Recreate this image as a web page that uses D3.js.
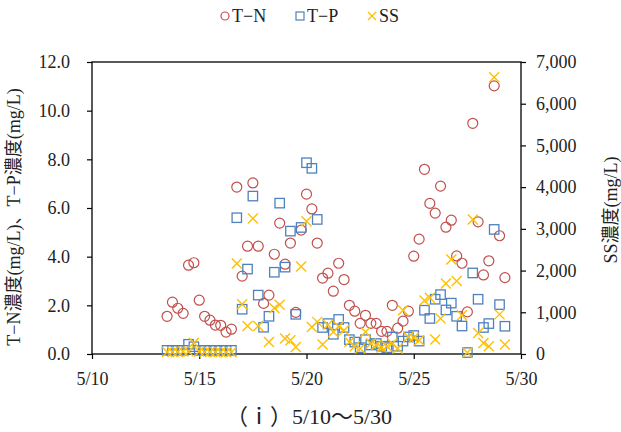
<!DOCTYPE html>
<html>
<head>
<meta charset="utf-8">
<script src="https://cdn.jsdelivr.net/npm/d3@7"></script>
<style>
  body { margin: 0; background: #fff; }
  text { font-family: "Liberation Serif", "Noto Sans CJK JP", serif; fill: #222; }
</style>
</head>
<body>
<svg id="chart"></svg>
<script>
// Sampling times (every 6 hours)
const sampleTimes = [
  "5/13 12:00", "5/13 18:00",
  "5/14 0:00", "5/14 6:00", "5/14 12:00", "5/14 18:00",
  "5/15 0:00", "5/15 6:00", "5/15 12:00", "5/15 18:00",
  "5/16 0:00", "5/16 6:00", "5/16 12:00", "5/16 18:00",
  "5/17 0:00", "5/17 6:00", "5/17 12:00", "5/17 18:00",
  "5/18 0:00", "5/18 6:00", "5/18 12:00", "5/18 18:00",
  "5/19 0:00", "5/19 6:00", "5/19 12:00", "5/19 18:00",
  "5/20 0:00", "5/20 6:00", "5/20 12:00", "5/20 18:00",
  "5/21 0:00", "5/21 6:00", "5/21 12:00", "5/21 18:00",
  "5/22 0:00", "5/22 6:00", "5/22 12:00", "5/22 18:00",
  "5/23 0:00", "5/23 6:00", "5/23 12:00", "5/23 18:00",
  "5/24 0:00", "5/24 6:00", "5/24 12:00", "5/24 18:00",
  "5/25 0:00", "5/25 6:00", "5/25 12:00", "5/25 18:00",
  "5/26 0:00", "5/26 6:00", "5/26 12:00", "5/26 18:00",
  "5/27 0:00", "5/27 6:00", "5/27 12:00", "5/27 18:00",
  "5/28 0:00", "5/28 6:00", "5/28 12:00", "5/28 18:00",
  "5/29 0:00", "5/29 6:00"
];

// T-N (mg/L)
const tnValues = [
  1.55, 2.13,
  1.88, 1.67, 3.65, 3.75,
  2.21, 1.55, 1.39, 1.19,
  1.18, 0.90, 1.02, 6.86,
  3.20, 4.43, 7.03, 4.43,
  2.08, 2.42, 4.10, 5.38,
  3.69, 4.56, 1.71, 5.09,
  6.57, 5.96, 4.56, 3.12,
  3.32, 2.58, 3.73, 3.06,
  2.00, 1.76, 1.26, 1.59,
  1.26, 1.26, 0.93, 0.93,
  2.00, 1.06, 1.35, 1.76,
  4.02, 4.72, 7.59, 6.19,
  5.79, 6.90, 5.21, 5.50,
  4.03, 3.73, 1.73, 9.48,
  5.43, 3.25, 3.83, 11.02,
  4.86, 3.14
];

// T-P (mg/L)
const tpValues = [
  0.15, 0.15,
  0.15, 0.15, 0.40, 0.30,
  0.15, 0.15, 0.15, 0.15,
  0.15, 0.15, 0.15, 5.60,
  1.84, 3.49, 6.49, 2.42,
  1.10, 1.55, 3.36, 6.20,
  3.57, 5.05, 1.63, 5.20,
  7.86, 7.63, 5.53, 1.09,
  1.25, 0.81, 1.42, 1.09,
  0.59, 0.49, 0.26, 0.59,
  0.37, 0.43, 0.32, 0.26,
  0.70, 0.32, 0.53, 0.70,
  0.76, 0.53, 1.80, 1.46,
  2.25, 2.44, 1.81, 2.09,
  1.55, 1.15, 0.06, 3.33,
  2.25, 1.09, 1.25, 5.12,
  2.03, 1.14
];

// SS (mg/L)
const ssValues = [
  50, 50,
  50, 60, 60, 270,
  60, 50, 50, 40,
  40, 40, 40, 2170,
  1190, 670, 3250, 670,
  null, 290, 1100, 1180,
  370, 330, 170, 2100,
  3180, 650, 770, 230,
  700, 530, 660, 570,
  290, 185, 130, 530,
  250, 210, 155, 185,
  250, 130, 1050, 410,
  390, 330, 1280, 1350,
  345, 850, 1690, 2265,
  1750, 930, 35, 3225,
  505, 265, 185, 6635,
  950, 230
];

const dateTicks = ["5/10 0:00", "5/15 0:00", "5/20 0:00", "5/25 0:00", "5/30 0:00"];
const leftTicks = [0, 2, 4, 6, 8, 10, 12];
const rightTicks = [0, 1000, 2000, 3000, 4000, 5000, 6000, 7000];

const colorTN = "#C0504D";
const colorTP = "#4F81BD";
const colorSS = "#FFC000";

const margin = { top: 62, right: 100, bottom: 78, left: 92 };
const width = 621 - margin.left - margin.right;
const height = 432 - margin.top - margin.bottom;

const parseTime = d3.timeParse("%m/%d %H:%M");
const times = sampleTimes.map(parseTime);

const root = d3.select("#chart")
    .attr("width", 621)
    .attr("height", 432);

const svg = root.append("g")
    .attr("transform", `translate(${margin.left},${margin.top})`);

// Scales
const xScale = d3.scaleTime()
    .domain([parseTime(dateTicks[0]), parseTime(dateTicks[dateTicks.length - 1])])
    .range([0, width]);

const yLeft = d3.scaleLinear().domain([0, 12]).range([height, 0]);
const yRight = d3.scaleLinear().domain([0, 7000]).range([height, 0]);

// Axes
const xAxis = svg.append("g")
    .attr("transform", `translate(0,${height})`)
    .call(d3.axisBottom(xScale)
        .tickValues(dateTicks.map(parseTime))
        .tickFormat(d3.timeFormat("%-m/%-d"))
        .tickSize(5)
        .tickPadding(13));

const leftAxis = svg.append("g")
    .call(d3.axisLeft(yLeft)
        .tickValues(leftTicks)
        .tickFormat(d3.format(".1f"))
        .tickSize(5)
        .tickPadding(17));

const rightAxis = svg.append("g")
    .attr("transform", `translate(${width},0)`)
    .call(d3.axisRight(yRight)
        .tickValues(rightTicks)
        .tickFormat(d3.format(","))
        .tickSize(5)
        .tickPadding(10));

[xAxis, leftAxis, rightAxis].forEach(function(ax) {
    ax.select(".domain").remove();
    ax.selectAll(".tick line").attr("stroke", "#000").attr("stroke-width", 1.2);
    ax.selectAll(".tick text")
        .style("font-size", "18px")
        .style("font-family", "'Liberation Serif', serif")
        .attr("fill", "#222");
});

// Plot frame
svg.append("rect")
    .attr("x", 0)
    .attr("y", 0)
    .attr("width", width)
    .attr("height", height)
    .attr("fill", "none")
    .attr("stroke", "#000")
    .attr("stroke-width", 1.3);

// Build point lists
const tnPoints = times.map((t, i) => ({ t: t, v: tnValues[i] })).filter(d => d.v != null);
const tpPoints = times.map((t, i) => ({ t: t, v: tpValues[i] })).filter(d => d.v != null);
const ssPoints = times.map((t, i) => ({ t: t, v: ssValues[i] })).filter(d => d.v != null);

// T-N circles
svg.selectAll(".tn")
    .data(tnPoints)
    .enter().append("circle")
    .attr("class", "tn")
    .attr("cx", d => xScale(d.t))
    .attr("cy", d => yLeft(d.v))
    .attr("r", 5)
    .attr("fill", "none")
    .attr("stroke", colorTN)
    .attr("stroke-width", 1.2);

// T-P squares
svg.selectAll(".tp")
    .data(tpPoints)
    .enter().append("rect")
    .attr("class", "tp")
    .attr("x", d => xScale(d.t) - 4.7)
    .attr("y", d => yLeft(d.v) - 4.7)
    .attr("width", 9.4)
    .attr("height", 9.4)
    .attr("fill", "none")
    .attr("stroke", colorTP)
    .attr("stroke-width", 1.3);

// SS crosses
const crossPath = "M-5,-5L5,5M-5,5L5,-5";
svg.selectAll(".ss")
    .data(ssPoints)
    .enter().append("path")
    .attr("class", "ss")
    .attr("transform", d => `translate(${xScale(d.t)},${yRight(d.v)})`)
    .attr("d", crossPath)
    .attr("fill", "none")
    .attr("stroke", colorSS)
    .attr("stroke-width", 1.4);

// Legend
const legend = root.append("g");
legend.append("circle")
    .attr("cx", 225).attr("cy", 16).attr("r", 4)
    .attr("fill", "none").attr("stroke", colorTN).attr("stroke-width", 1.2);
legend.append("text").attr("x", 232).attr("y", 22).style("font-size", "18px").text("T−N");
legend.append("rect")
    .attr("x", 296).attr("y", 12).attr("width", 8).attr("height", 8)
    .attr("fill", "none").attr("stroke", colorTP).attr("stroke-width", 1.2);
legend.append("text").attr("x", 307).attr("y", 22).style("font-size", "18px").text("T−P");
legend.append("path")
    .attr("transform", "translate(372,16)")
    .attr("d", "M-4,-4L4,4M-4,4L4,-4")
    .attr("stroke", colorSS).attr("stroke-width", 1.3);
legend.append("text").attr("x", 379).attr("y", 22).style("font-size", "18px").text("SS");

// Axis titles
root.append("text")
    .attr("transform", "translate(14,217) rotate(-90)")
    .attr("text-anchor", "middle")
    .attr("dominant-baseline", "central")
    .style("font-size", "18px")
    .text("T−N濃度(mg/L)、T−P濃度(mg/L)");

root.append("text")
    .attr("transform", "translate(611,210) rotate(-90)")
    .attr("text-anchor", "middle")
    .attr("dominant-baseline", "central")
    .style("font-size", "18px")
    .text("SS濃度(mg/L)");

// Caption
root.append("text")
    .attr("x", 309)
    .attr("y", 424)
    .attr("text-anchor", "middle")
    .style("font-size", "22px")
    .text("（ⅰ）5/10～5/30");
</script>
</body>
</html>
